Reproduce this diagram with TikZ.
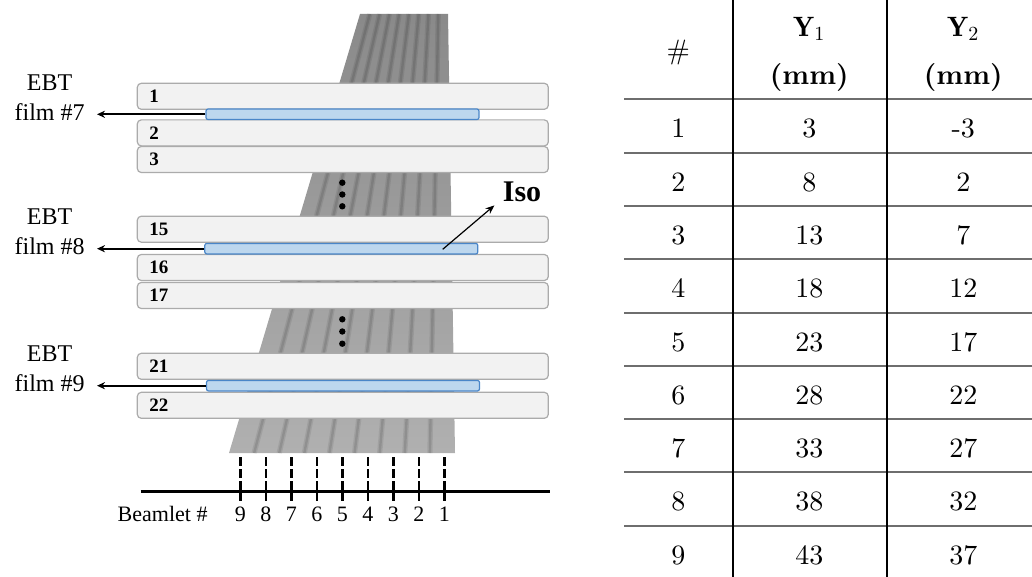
\documentclass[tikz,border=0pt]{standalone}
\usepackage{fontspec}
\usepackage{amsmath}
\usetikzlibrary{arrows.meta,positioning,calc}
\newfontfamily\timesfont{Liberation Serif}
\newfontfamily\tabfont{lmroman10-regular.otf}[BoldFont=lmroman10-bold.otf]
\definecolor{slabfill}{HTML}{F2F2F2}
\definecolor{slabedge}{HTML}{ABABAB}
\definecolor{filmfill}{HTML}{BDD7EE}
\definecolor{filmedge}{HTML}{4A86C8}
\definecolor{rowgray}{HTML}{6E6E6E}
\tikzset{
  slabBox/.style={draw=slabedge, fill=slabfill, line width=0.6pt, rounded corners=2pt,
    minimum height=13pt, text width=193.5pt, inner xsep=6pt, inner ysep=0pt, align=left,
    font=\timesfont\bfseries\fontsize{9.5}{9.5}\selectfont},
  filmBox/.style={draw=filmedge, fill=filmfill, line width=0.6pt, rounded corners=1pt,
    minimum width=136.5pt, minimum height=5.25pt, inner sep=0pt},
  filmArrow/.style={-{Stealth[length=4pt,width=3.6pt]}, line width=0.9pt},
  filmLabel/.style={font=\timesfont\fontsize{12}{15}\selectfont, align=center, inner sep=0pt},
  isoArrow/.style={-{Stealth[length=4.5pt,width=3.6pt]}, line width=0.6pt},
  beamletText/.style={font=\timesfont\fontsize{11}{11}\selectfont, inner sep=0pt},
  cellText/.style={font=\tabfont\fontsize{14}{14}\selectfont, anchor=base, inner sep=0pt}
}

\begin{document}
\begin{tikzpicture}[x=0.5pt,y=-0.5pt]
  \useasboundingbox (0,0) rectangle (1032,577);

  % diverging beam made of nine beamlets
  \shade[top color=black!46, bottom color=black!31] (360,14) -- (448,14) -- (455,453) -- (229,453) -- cycle;
  \foreach \i in {1,...,8} {
    \draw[black, opacity=0.08, line width=2.6pt] ({360+\i*88/9},14) -- ({229+\i*226/9},453);
    \draw[black, opacity=0.10, line width=1.2pt] ({360+\i*88/9},14) -- ({229+\i*226/9},453);
  }

  % phantom slabs
  \foreach \n/\y in {1/96.3, 2/132.9, 3/159.5, 15/229.2, 16/267.5, 17/295.5, 21/366.3, 22/405.3}
    \node[slabBox] (s\n) at (342.8,\y) {\n};

  % films sitting between the slabs
  \foreach \n/\x/\y in {7/342.5/114.3, 8/341.3/248.7, 9/343/385.7} {
    \node[filmBox] (f\n) at (\x,\y) {};
    \node[filmLabel, anchor=east] (l\n) at (85,\y-16.5) {EBT\\film \#\n};
    \draw[filmArrow, shorten >=6pt] (f\n.west) -- (f\n.west -| l\n.east);
  }

  % skipped slabs
  \foreach \y in {182.7,194.5,206.3,319.3,331.5,343.7}
    \fill (342.3,\y) circle (1.6pt);

  \node[font=\timesfont\bfseries\fontsize{15}{15}\selectfont, inner sep=0pt] (iso) at (522,192) {Iso};
  \coordinate (isoPt) at (442.7,249.3);
  \draw[isoArrow] (isoPt) -- ($(iso.south west)+(-8,3)$);

  % beamlet positions
  \draw[line width=1.3pt] (140.7,491.7) -- (550,491.7);
  \node[beamletText, anchor=base west] (bLabel) at (117.3,521.7) {Beamlet \#};
  \foreach \i in {1,...,9} {
    \pgfmathsetmacro\bx{444.3-(\i-1)*25.5}
    \draw[line width=1.2pt, dash pattern=on 4.4pt off 1.6pt] (\bx,457.3) -- (\bx,500.7);
    \node[beamletText, anchor=base] (b\i) at (\bx,521.7) {\i};
  }

  % offsets table
  \foreach \k in {0,...,8}
    \draw[rowgray, line width=1pt] (624.3,{99.3+53.3*\k}) -- (1032,{99.3+53.3*\k});
  \draw[line width=0.8pt] (732.7,0) -- (732.7,577);
  \draw[line width=0.8pt] (886.7,0) -- (886.7,577);

  \node[cellText] (hNum) at (678.3,59.6) {\#};
  \node[cellText] (hYa) at (809.3,36.5) {$\mathbf{Y}_1$};
  \node[cellText] (hUa) at (809.3,84.5) {\textbf{(mm)}};
  \node[cellText] (hYb) at (963.3,36.5) {$\mathbf{Y}_2$};
  \node[cellText] (hUb) at (963.3,84.5) {\textbf{(mm)}};
  \foreach \k/\a/\b in {1/3/-3, 2/8/2, 3/13/7, 4/18/12, 5/23/17, 6/28/22, 7/33/27, 8/38/32, 9/43/37} {
    \node[cellText] (n\k) at (678.3,{84.5+53.3*\k}) {\k};
    \node[cellText] (ya\k) at (809.3,{84.5+53.3*\k}) {\a};
    \node[cellText] (yb\k) at (963.3,{84.5+53.3*\k}) {\b};
  }
\end{tikzpicture}
\end{document}
